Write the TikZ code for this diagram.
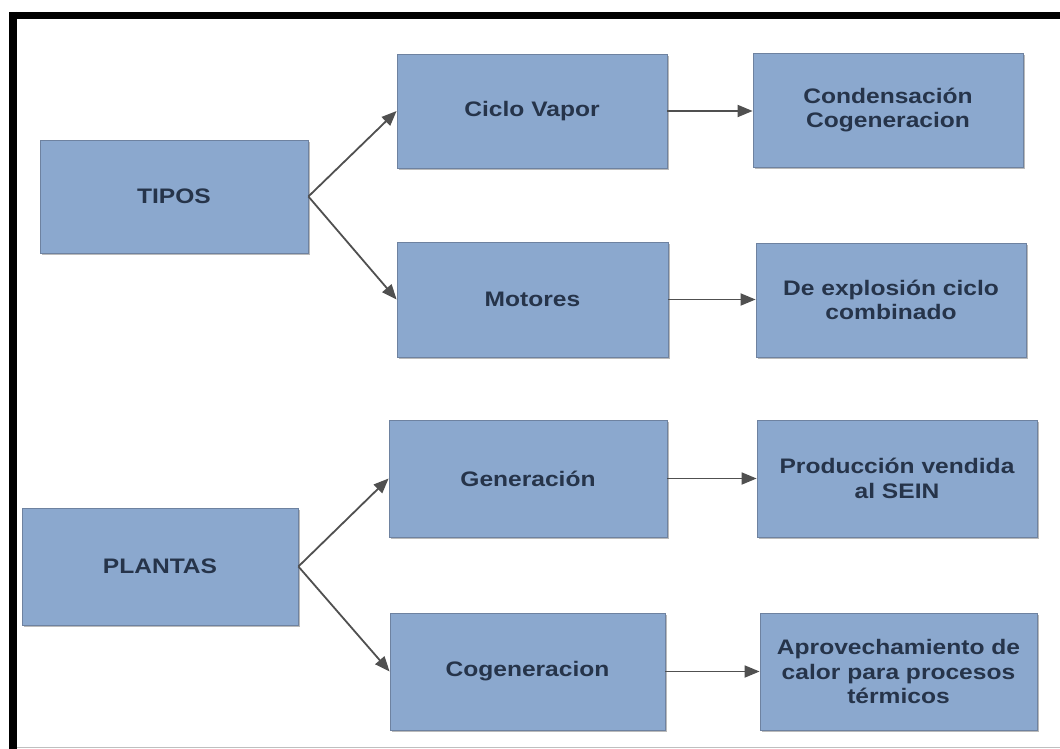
\documentclass[tikz,border=0pt]{standalone}
\usepackage{fontspec}
\setmainfont{Liberation Sans}[FakeStretch=1.17]
\usetikzlibrary{arrows.meta,shadows}

\definecolor{boxblue}{RGB}{139,168,206}
\definecolor{boxline}{RGB}{110,130,160}
\definecolor{boxtext}{RGB}{38,52,74}
\definecolor{arrowgray}{RGB}{80,80,80}

\tikzset{
    box/.style={draw=boxline, fill=boxblue, line width=0.8pt,
        drop shadow={shadow xshift=2pt, shadow yshift=-2pt, fill=black!45, opacity=0.6},
        text=boxtext, font=\fontsize{21}{24.5}\selectfont\bfseries,
        align=center, inner sep=0pt},
    link/.style={draw=arrowgray, line width=1.8pt,
        -{Triangle[length=15pt,width=12pt]}}
}

\begin{document}
\begin{tikzpicture}[x=1pt, y=-1pt]
    \useasboundingbox (0,0) rectangle (1060,749);
    \fill[white] (0,0) rectangle (1060,749);

    % frame
    \draw[black!25, line width=1pt] (17,747.5) -- (1060,747.5);
    \draw[black, line width=7pt] (9,15.5) -- (1060,15.5);
    \draw[black, line width=8pt] (13,12) -- (13,749);

    % upper group
    \node[box, minimum width=268pt, minimum height=113pt] (tipos) at (174,196.5) {TIPOS};
    \node[box, minimum width=270pt, minimum height=114pt] (vapor) at (532,111) {Ciclo Vapor};
    \node[box, minimum width=271pt, minimum height=115pt] (motores) at (532.5,299.5) {Motores};
    \node[box, minimum width=270pt, minimum height=114pt] (conden) at (888,110)
        {Condensación\\Cogeneracion};
    \node[box, minimum width=270pt, minimum height=114pt] (explos) at (891,300)
        {De explosión ciclo\\combinado};

    % lower group
    \node[box, minimum width=276pt, minimum height=117pt] (plantas) at (160,566.5) {PLANTAS};
    \node[box, minimum width=278pt, minimum height=117pt] (gener) at (528,478.5) {Generación};
    \node[box, minimum width=275pt, minimum height=117pt] (cogen) at (527.5,671.5) {Cogeneracion};
    \node[box, minimum width=280pt, minimum height=117pt] (produc) at (897,478.5)
        {Producción vendida\\al SEIN};
    \node[box, minimum width=277pt, minimum height=117pt] (aprov) at (898.5,671.5)
        {Aprovechamiento de\\calor para procesos\\térmicos};

    % connectors
    \draw[link] (tipos.east) -- (vapor.west);
    \draw[link] (tipos.east) -- (motores.west);
    \draw[link] (vapor.east) -- (vapor.east -| conden.west);
    \draw[link] (motores.east) -- (motores.east -| explos.west);
    \draw[link] (plantas.east) -- (gener.west);
    \draw[link] (plantas.east) -- (cogen.west);
    \draw[link] (gener.east) -- (gener.east -| produc.west);
    \draw[link] (cogen.east) -- (cogen.east -| aprov.west);
\end{tikzpicture}
\end{document}
